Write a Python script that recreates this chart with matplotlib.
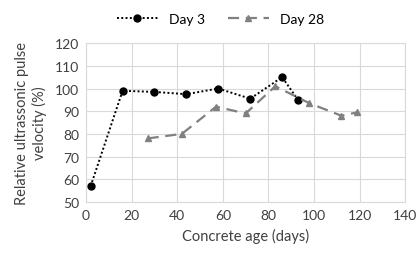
import matplotlib
matplotlib.use("Agg")
import matplotlib.pyplot as plt

plt.rcParams['font.family'] = ['Lato', 'DejaVu Sans']

# Day 3 series
day3_x = [2, 16, 30, 44, 58, 72, 86, 93]
day3_y = [57, 99, 98.5, 97.5, 100, 95.5, 105, 95]

# Day 28 series
day28_x = [27, 42, 57, 70, 83, 98, 112, 119]
day28_y = [78, 80, 92, 89, 101, 93.5, 88, 89.5]

fig = plt.figure(figsize=(4.16, 2.55), dpi=100)
ax = fig.add_axes([0.207, 0.204, 0.767, 0.623])

ax.plot(day3_x, day3_y, color="black", linestyle=(0, (1, 1.2)), linewidth=1.4,
        marker="o", markersize=5, label="Day 3")
ax.plot(day28_x, day28_y, color="#808080", linestyle=(0, (5, 3)), linewidth=1.6,
        marker="^", markersize=5, label="Day 28")

ax.set_xlim(0, 140)
ax.set_ylim(50, 120)
ax.set_xticks(range(0, 141, 20))
ax.set_yticks(range(50, 121, 10))
ax.grid(True, color="#d9d9d9", linewidth=0.8)
ax.set_axisbelow(True)
for s in ax.spines.values():
    s.set_color("#d9d9d9")
ax.tick_params(length=0, labelsize=10, colors="#404040", pad=5)

ax.set_xlabel("Concrete age (days)", fontsize=10.5, color="#404040", labelpad=5)
ax.set_ylabel("Relative ultrassonic pulse\nvelocity (%)", fontsize=10.5,
              color="#404040", multialignment="center", labelpad=6)

fig.legend(loc="upper center", bbox_to_anchor=(0.53, 0.995), ncol=2, frameon=False,
           fontsize=10, handlelength=3.0, columnspacing=1.6)

fig.savefig("out.png", dpi=100)
